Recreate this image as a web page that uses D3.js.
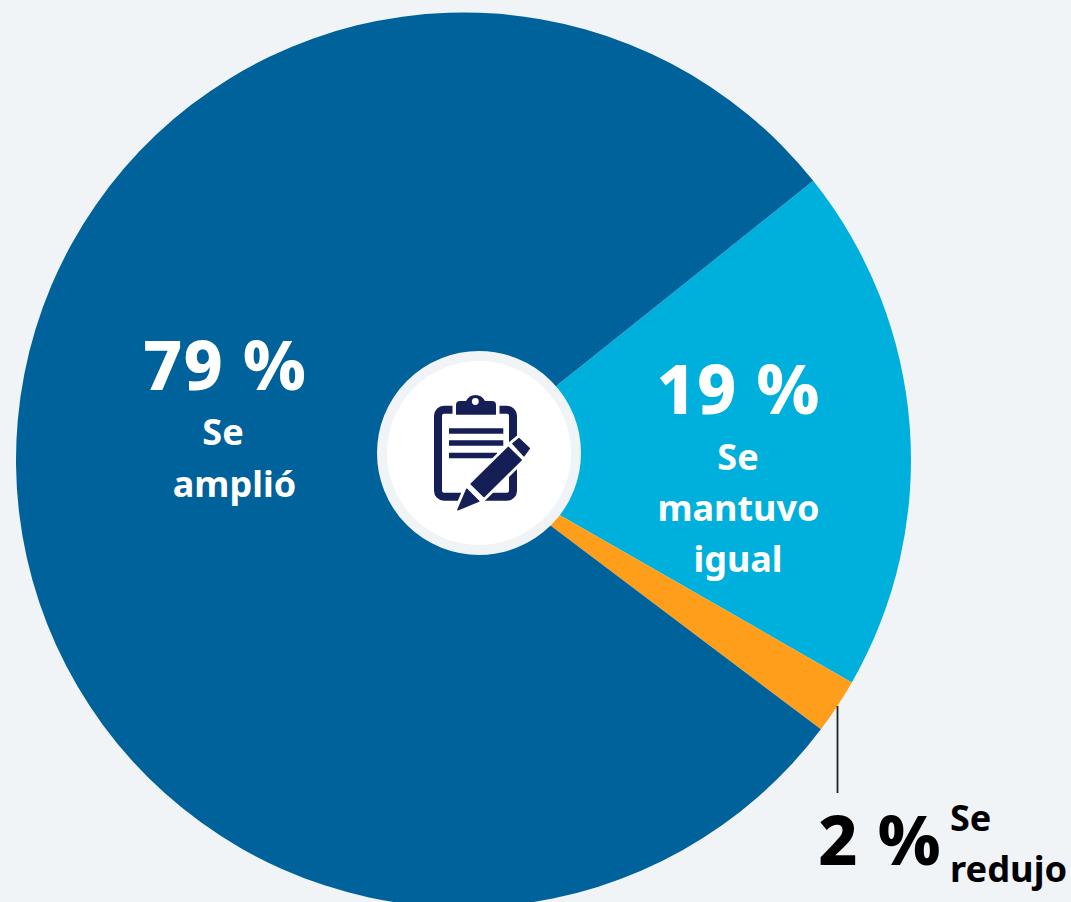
<!DOCTYPE html>
<html><head><meta charset="utf-8">
<script src="https://cdn.jsdelivr.net/npm/d3@7"></script>
<style>html,body{margin:0;padding:0;background:#f0f4f7;overflow:hidden}svg{display:block}text{font-family:"Noto Sans",sans-serif;font-weight:700}</style>
</head><body><svg id="c" width="1071" height="902"></svg>
<script>
const categories = ["Se mantuvo igual", "Se redujo", "Se amplió"];
const values = [19, 2, 79];
const valueLabels = ["19 %", "2 %", "79 %"];
const colors = ["#00b0dc", "#ff9e1b", "#00629b"];
const W = 1071, H = 902, cx = 463.5, cy = 460, R = 447.5;
const svg = d3.select("#c");
const pie = d3.pie().sort(null).value(d => d).startAngle(51.4 * Math.PI / 180).endAngle((51.4 + 360) * Math.PI / 180);
const arc = d3.arc().innerRadius(0).outerRadius(R);
svg.append("g").attr("transform", `translate(${cx},${cy})`)
  .selectAll("path").data(pie(values)).join("path")
  .attr("d", arc).attr("fill", (d, i) => colors[i]);

// leader
svg.append("line").attr("x1", 837.5).attr("x2", 837.5).attr("y1", 706).attr("y2", 793).attr("stroke", "#222").attr("stroke-width", 1.8);

// centre badge
svg.append("circle").attr("cx", 479).attr("cy", 453).attr("r", 97).attr("fill", "#fff").attr("stroke", "#f0f4f7").attr("stroke-width", 10);

// icon
const navy = "#161f55";
const ic = svg.append("g");
ic.append("rect").attr("x", 438).attr("y", 409.7).attr("width", 75).attr("height", 87).attr("rx", 6).attr("fill", "none").attr("stroke", navy).attr("stroke-width", 8);
ic.append("rect").attr("x", 452.5).attr("y", 398).attr("width", 47).attr("height", 20).attr("fill", "#fff");
ic.append("path").attr("d", "M456,414.7V405Q456,401 460,401H466Q469,395 475.5,395Q482,395 485,401H492Q496,401 496,405V414.7Z").attr("fill", navy);
ic.append("circle").attr("cx", 475.3).attr("cy", 401.5).attr("r", 3.4).attr("fill", "#fff");
[[449, 503.3, 431], [449, 503.3, 443], [449, 497, 455.5]].forEach(l =>
  ic.append("line").attr("x1", l[0]).attr("x2", l[1]).attr("y1", l[2]).attr("y2", l[2]).attr("stroke", navy).attr("stroke-width", 5.4));
const pencil = "M457.7,510L466.7,489L479,501.3ZM471,484L508.3,447.3L521.3,460L484,496.7ZM512.7,443.7L519,438.5L529.5,448.5L524,456Z";
const hull = "M457.7,510L466.7,489L508.3,447.3L512.7,443.7L519,438.5L529.5,448.5L524,456L521.3,460L484,496.7L479,501.3Z";
ic.append("path").attr("d", hull).attr("fill", "#fff").attr("stroke", "#fff").attr("stroke-width", 7).attr("stroke-linejoin", "round");
ic.append("path").attr("d", pencil).attr("fill", navy).attr("stroke", navy).attr("stroke-width", 1.2).attr("stroke-linejoin", "round");

// labels
function t(x, y, s, size, fill, anchor, weight, ls) {
  svg.append("text").attr("x", x).attr("y", y).attr("font-size", size).attr("fill", fill).attr("text-anchor", anchor || "middle").style("font-weight", weight || 700).style("letter-spacing", (ls || 0) + "px").text(s);
}
t(225, 390, valueLabels[2], 68, "#fff", "middle", 800, 1.2);
t(223, 445, "Se", 36, "#fff");
t(234.5, 497, "amplió", 36, "#fff");
t(738.5, 414, valueLabels[0], 68, "#fff", "middle", 800, 1.2);
t(738, 470, "Se", 36, "#fff");
t(738.5, 521, "mantuvo", 36, "#fff");
t(738, 572, "igual", 36, "#fff");
t(880, 865, valueLabels[1], 68, "#000", "middle", 800, 1.2);
t(950, 831, "Se", 36, "#000", "start");
t(950, 882, "redujo", 36.3, "#000", "start");
</script></body></html>
